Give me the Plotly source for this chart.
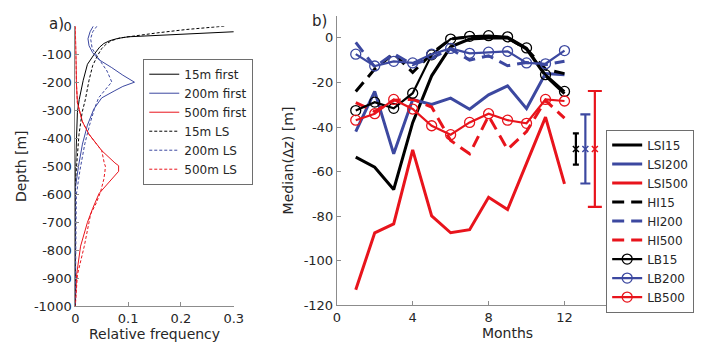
import plotly.graph_objects as go

# ---------------- Panel a: depth distributions ----------------
d15_first = [-20, -38, -44, -52, -62, -75, -97, -136, -193, -262, -307, -400, -500, -600, -1000]
f15_first = [0.30, 0.10, 0.08, 0.065, 0.054, 0.046, 0.037, 0.023, 0.015, 0.0074, 0.004, 0.002, 0.0005, 0, 0]

d200_first = [0, -20, -45, -70, -95, -120, -148, -175, -200, -215, -230, -256, -296, -353, -421, -500, -580, -1000]
f200_first = [0.034, 0.028, 0.024, 0.026, 0.033, 0.045, 0.069, 0.09, 0.112, 0.09, 0.075, 0.05, 0.035, 0.023, 0.0135, 0.006, 0, 0]

d500_first = [0, -100, -200, -273, -341, -386, -444, -488, -498, -518, -560, -597, -650, -700, -785, -887, -1000]
f500_first = [0, 0.0008, 0.002, 0.004, 0.0135, 0.026, 0.05, 0.075, 0.082, 0.082, 0.062, 0.045, 0.033, 0.023, 0.01, 0.0025, 0]

d15_ls = [0, -12, -24, -34, -42, -52, -65, -80, -102, -140, -193, -262, -307, -386, -470, -560, -1000]
f15_ls = [0.282, 0.21, 0.155, 0.11, 0.085, 0.068, 0.058, 0.05, 0.043, 0.033, 0.026, 0.019, 0.013, 0.007, 0.003, 0, 0]

d200_ls = [0, -20, -45, -80, -110, -131, -160, -199, -228, -256, -296, -353, -420, -512, -600, -1000]
f200_ls = [0.041, 0.033, 0.029, 0.032, 0.042, 0.05, 0.06, 0.069, 0.057, 0.044, 0.036, 0.027, 0.018, 0.009, 0.002, 0]

d500_ls = [0, -100, -200, -273, -341, -386, -444, -490, -500, -520, -546, -590, -630, -671, -785, -887, -1000]
f500_ls = [0, 0.0008, 0.002, 0.004, 0.0135, 0.026, 0.05, 0.055, 0.057, 0.056, 0.054, 0.048, 0.04, 0.029, 0.017, 0.004, 0]

# ---------------- Panel b: monthly medians ----------------
months = list(range(1, 13))
lsi15 = [-53.5, -58, -68, -38, -17, -4, -0.5, 0, 0, -5, -17, -25]
lsi200 = [-42, -24, -52, -27.6, -29.8, -27, -32, -25.5, -21.5, -31.7, -16, -16.5]
lsi500 = [-113, -87.4, -83.4, -50.2, -79.8, -87.4, -86, -71.5, -77, -56.5, -35.5, -65.5]
hi15 = [-24, -14, -7, -15.5, -7, -0.5, 0.5, 0.5, 0, -5, -14, -16]
hi200 = [-2, -13, -7, -12, -9, -5, -10, -8, -12.5, -11, -12, -10.5]
hi500 = [-29, -33, -28, -27.5, -31, -46, -52, -35, -50, -42, -28, -36]
lb15 = [-32.6, -28.8, -31.6, -24.8, -7.6, -0.5, 0.7, 1.0, 0.5, -4.5, -16.5, -24]
lb200 = [-7.3, -12.6, -10.5, -11.2, -7.3, -4.7, -6.9, -6.4, -6.0, -11.2, -11.6, -5.7]
lb500 = [-36.9, -34, -27.6, -31.9, -39.4, -43.4, -37.9, -34, -36.9, -38.3, -27.6, -28.3]

# spread markers to the right of the series
err_x = [12.6, 13.1, 13.6]
err_center = [-49.8, -49.8, -49.8]
err_half = [7, 15.5, 26]
err_cap = [3, 5, 7]

y_ticks_a = [0, -100, -200, -300, -400, -500, -600, -700, -800, -900, -1000]
x_ticks_a = [0, 0.1, 0.2, 0.3]
y_ticks_b = [0, -20, -40, -60, -80, -100, -120]
x_ticks_b = [0, 4, 8, 12]

BLACK = "#000000"
BLUE = "#3c48a0"
RED = "#e8141c"
FONT = "DejaVu Sans"
TXT = "#262626"

fig = go.Figure()

thin = 1.0
for name, x, y, c, dash in [
    ("15m first", f15_first, d15_first, BLACK, "solid"),
    ("200m first", f200_first, d200_first, BLUE, "solid"),
    ("500m first", f500_first, d500_first, RED, "solid"),
    ("15m LS", f15_ls, d15_ls, BLACK, "3px,2px"),
    ("200m LS", f200_ls, d200_ls, BLUE, "3px,2px"),
    ("500m LS", f500_ls, d500_ls, RED, "3px,2px"),
]:
    fig.add_trace(go.Scatter(x=x, y=y, mode="lines", name=name,
                             line=dict(color=c, width=thin, dash=dash),
                             xaxis="x", yaxis="y", legend="legend"))

for name, y, c in [("LSI15", lsi15, BLACK), ("LSI200", lsi200, BLUE), ("LSI500", lsi500, RED)]:
    fig.add_trace(go.Scatter(x=months, y=y, mode="lines", name=name,
                             line=dict(color=c, width=3), xaxis="x2", yaxis="y2", legend="legend2"))
for name, y, c in [("HI15", hi15, BLACK), ("HI200", hi200, BLUE), ("HI500", hi500, RED)]:
    fig.add_trace(go.Scatter(x=months, y=y, mode="lines", name=name,
                             line=dict(color=c, width=3, dash="12px,7px"),
                             xaxis="x2", yaxis="y2", legend="legend2"))
for name, y, c in [("LB15", lb15, BLACK), ("LB200", lb200, BLUE), ("LB500", lb500, RED)]:
    fig.add_trace(go.Scatter(x=months, y=y, mode="lines+markers", name=name,
                             line=dict(color=c, width=2.2),
                             marker=dict(symbol="circle-open", size=10, color=c, line=dict(width=1.3, color=c)),
                             xaxis="x2", yaxis="y2", legend="legend2"))

for i, c in enumerate([BLACK, BLUE, RED]):
    fig.add_trace(go.Scatter(x=[err_x[i]], y=[err_center[i]], mode="markers", showlegend=False,
                             marker=dict(symbol="x-thin-open", size=6, color=c, line=dict(width=1.5, color=c)),
                             error_y=dict(type="data", array=[err_half[i]], color=c, thickness=2.2, width=err_cap[i]),
                             xaxis="x2", yaxis="y2"))

W, H = 727, 353
axcommon = dict(showline=True, linecolor="#8c8c8c", linewidth=1, ticks="inside", ticklen=4,
                tickcolor="#8c8c8c", showgrid=False, zeroline=False, mirror=False,
                tickfont=dict(family=FONT, size=13, color=TXT))

fig.update_layout(
    width=W, height=H, margin=dict(l=0, r=0, t=0, b=0),
    paper_bgcolor="white", plot_bgcolor="white",
    font=dict(family=FONT, size=13, color=TXT),
    xaxis=dict(axcommon, domain=[72.7 / W, 234.3 / W], range=[0, 0.3], anchor="y",
               tickvals=x_ticks_a, ticktext=["0", "0.1", "0.2", "0.3"],
               title=dict(text="Relative frequency", font=dict(size=14, family=FONT, color=TXT), standoff=2)),
    yaxis=dict(axcommon, domain=[1 - 312.7 / H, 1 - 20 / H], range=[-1000, 0], anchor="x",
               tickvals=y_ticks_a, ticktext=[str(v) for v in y_ticks_a],
               title=dict(text="Depth [m]", font=dict(size=14, family=FONT, color=TXT), standoff=4)),
    xaxis2=dict(axcommon, domain=[339.3 / W, 687.6 / W], range=[0, 18], anchor="y2",
                tickvals=x_ticks_b, ticktext=[str(v) for v in x_ticks_b],
                title=dict(text="Months", font=dict(size=14, family=FONT, color=TXT), standoff=2)),
    yaxis2=dict(axcommon, domain=[1 - 311.7 / H, 1 - 9 / H], range=[-120, 10], anchor="x2",
                tickvals=y_ticks_b, ticktext=[str(v) for v in y_ticks_b],
                title=dict(text="Median(\u0394z) [m]", font=dict(size=14, family=FONT, color=TXT), standoff=6)),
    legend=dict(x=142 / W, y=1 - 54 / H, xanchor="left", yanchor="top",
                bgcolor="white", bordercolor="#6e6e6e", borderwidth=1,
                font=dict(family=FONT, size=12, color=TXT), tracegroupgap=0, itemwidth=30),
    legend2=dict(x=614 / W, y=1 - 128 / H, xanchor="left", yanchor="top",
                 bgcolor="white", bordercolor="#6e6e6e", borderwidth=1,
                 font=dict(family=FONT, size=12, color=TXT), tracegroupgap=0, itemwidth=30),
    annotations=[
        dict(text="a)", x=44 / W, y=1 - 18 / H, xref="paper", yref="paper", showarrow=False,
             xanchor="left", yanchor="middle", font=dict(family=FONT, size=15, color=TXT)),
        dict(text="b)", x=312 / W, y=1 - 15 / H, xref="paper", yref="paper", showarrow=False,
             xanchor="left", yanchor="middle", font=dict(family=FONT, size=15, color=TXT)),
    ],
)

fig.write_html("out.html")
